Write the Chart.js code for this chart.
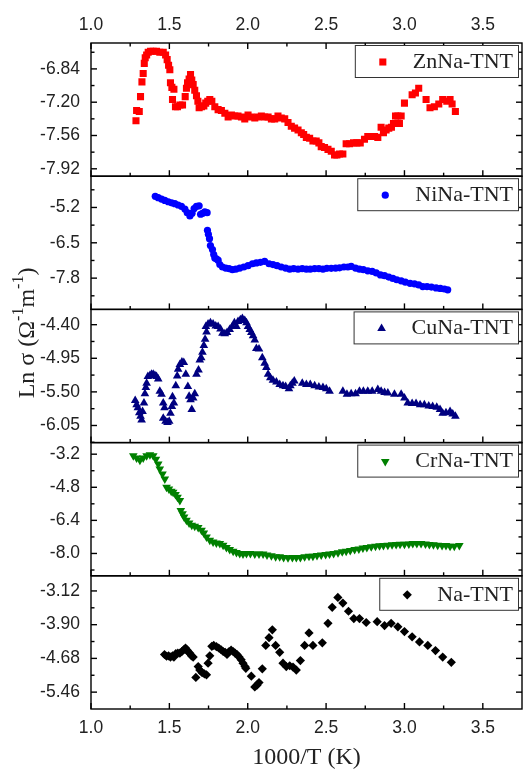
<!DOCTYPE html>
<html>
<head>
<meta charset="utf-8">
<title>Ln σ vs 1000/T</title>
<script src="https://cdn.jsdelivr.net/npm/chart.js@4.4.1/dist/chart.umd.min.js"></script>
<style>
  html, body { margin: 0; padding: 0; background: #fff; }
  #wrap { position: relative; width: 528px; height: 770px; }
</style>
</head>
<body>
<div id="wrap"><canvas id="cond"></canvas></div>
<script>
// shared 1000/T axis
const xTicks = [1.0, 1.5, 2.0, 2.5, 3.0, 3.5];
const xMin = 1.0, xMax = 3.75;

const sampleNames = ["ZnNa-TNT", "NiNa-TNT", "CuNa-TNT", "CrNa-TNT", "Na-TNT"];

// y tick labels for each panel, top to bottom
const znTicks = [-6.84, -7.20, -7.56, -7.92];
const niTicks = [-5.2, -6.5, -7.8];
const cuTicks = [-4.40, -4.95, -5.50, -6.05];
const crTicks = [-3.2, -4.8, -6.4, -8.0];
const naTicks = [-3.12, -3.90, -4.68, -5.46];

// ZnNa-TNT
const znX = [1.287,1.291,1.308,1.316,1.325,1.333,1.340,1.346,1.355,1.365,
  1.380,1.397,1.418,1.439,1.461,1.476,1.486,1.495,1.503,1.507,
  1.516,1.529,1.520,1.539,1.552,1.567,1.584,1.601,1.609,1.616,
  1.626,1.635,1.643,1.652,1.662,1.673,1.682,1.690,1.705,1.720,
  1.732,1.745,1.758,1.771,1.790,1.811,1.832,1.854,1.875,1.896,
  1.917,1.938,1.960,1.981,2.002,2.023,2.045,2.066,2.087,2.108,
  2.130,2.151,2.172,2.193,2.214,2.236,2.257,2.278,2.299,2.321,
  2.342,2.357,2.374,2.395,2.416,2.437,2.454,2.469,2.490,2.512,
  2.533,2.554,2.569,2.586,2.607,2.628,2.650,2.675,2.696,2.718,
  2.745,2.766,2.788,2.809,2.830,2.851,2.866,2.883,2.900,2.917,
  2.930,2.943,2.958,2.979,2.968,3.000,3.049,3.070,3.091,3.138,
  3.163,3.191,3.219,3.244,3.270,3.291,3.304,3.325];
const znY = [-7.40,-7.29,-7.30,-7.14,-6.98,-6.89,-6.78,-6.72,-6.69,-6.66,
  -6.65,-6.65,-6.65,-6.66,-6.66,-6.69,-6.74,-6.80,-6.85,-6.99,
  -7.04,-7.06,-7.17,-7.25,-7.25,-7.23,-7.23,-7.14,-7.05,-6.99,
  -6.95,-6.90,-6.96,-7.01,-7.07,-7.13,-7.19,-7.26,-7.25,-7.24,
  -7.21,-7.19,-7.17,-7.19,-7.25,-7.28,-7.29,-7.32,-7.36,-7.34,
  -7.35,-7.35,-7.36,-7.38,-7.34,-7.36,-7.37,-7.36,-7.35,-7.36,
  -7.36,-7.38,-7.38,-7.35,-7.37,-7.38,-7.42,-7.46,-7.48,-7.50,
  -7.53,-7.55,-7.58,-7.59,-7.62,-7.62,-7.64,-7.68,-7.69,-7.71,
  -7.73,-7.77,-7.77,-7.76,-7.76,-7.65,-7.65,-7.64,-7.64,-7.64,
  -7.60,-7.57,-7.57,-7.57,-7.58,-7.47,-7.53,-7.50,-7.48,-7.47,
  -7.43,-7.35,-7.35,-7.35,-7.43,-7.21,-7.12,-7.10,-7.05,-7.17,
  -7.26,-7.25,-7.22,-7.17,-7.19,-7.17,-7.22,-7.30];

// NiNa-TNT
const niX = [1.410,1.429,1.450,1.471,1.493,1.514,1.535,1.556,1.577,1.599,
  1.614,1.631,1.645,1.658,1.673,1.690,1.699,1.711,1.726,1.741,
  1.743,1.749,1.756,1.762,1.775,1.783,1.790,1.800,1.811,1.822,
  1.839,1.860,1.881,1.902,1.924,1.949,1.975,2.002,2.030,2.055,
  2.081,2.108,2.136,2.161,2.187,2.214,2.242,2.268,2.293,2.321,
  2.348,2.374,2.399,2.427,2.454,2.480,2.505,2.533,2.561,2.586,
  2.614,2.639,2.660,2.688,2.713,2.738,2.766,2.794,2.820,2.847,
  2.873,2.900,2.926,2.951,2.979,3.006,3.036,3.064,3.091,3.117,
  3.144,3.172,3.202,3.229,3.255,3.276];
const niY = [-4.79,-4.84,-4.89,-4.94,-4.99,-5.03,-5.06,-5.11,-5.16,-5.26,
  -5.39,-5.51,-5.41,-5.24,-5.16,-5.14,-5.45,-5.42,-5.36,-5.39,
  -6.04,-6.19,-6.35,-6.60,-6.75,-6.93,-7.06,-7.09,-7.14,-7.30,
  -7.39,-7.43,-7.45,-7.49,-7.47,-7.43,-7.39,-7.34,-7.27,-7.24,
  -7.22,-7.18,-7.27,-7.30,-7.34,-7.39,-7.43,-7.47,-7.45,-7.47,
  -7.45,-7.47,-7.47,-7.45,-7.45,-7.47,-7.44,-7.44,-7.43,-7.42,
  -7.39,-7.39,-7.37,-7.43,-7.47,-7.49,-7.53,-7.55,-7.61,-7.68,
  -7.71,-7.76,-7.81,-7.86,-7.90,-7.95,-7.99,-8.01,-8.05,-8.11,
  -8.11,-8.13,-8.16,-8.18,-8.20,-8.23];

// CuNa-TNT
const cuX = [1.282,1.291,1.299,1.308,1.316,1.323,1.329,1.338,1.344,1.350,
  1.355,1.363,1.376,1.386,1.397,1.408,1.418,1.429,1.439,1.450,
  1.461,1.469,1.461,1.476,1.488,1.499,1.507,1.516,1.520,1.529,
  1.541,1.550,1.556,1.567,1.580,1.592,1.605,1.618,1.626,1.635,
  1.643,1.652,1.662,1.673,1.686,1.694,1.703,1.711,1.720,1.728,
  1.737,1.733,1.747,1.762,1.779,1.796,1.811,1.826,1.839,1.854,
  1.868,1.885,1.902,1.915,1.928,1.938,1.953,1.966,1.981,1.992,
  2.002,2.013,2.023,2.034,2.045,2.055,2.072,2.093,2.108,2.119,
  2.130,2.144,2.161,2.183,2.204,2.225,2.242,2.263,2.272,2.285,
  2.297,2.348,2.374,2.399,2.427,2.454,2.480,2.501,2.522,2.607,
  2.633,2.660,2.688,2.713,2.738,2.766,2.794,2.830,2.851,2.873,
  2.894,2.936,2.979,3.000,3.021,3.049,3.074,3.100,3.127,3.155,
  3.180,3.206,3.227,3.244,3.265,3.291,3.308,3.325];
const cuY = [-5.64,-5.71,-5.76,-5.84,-5.90,-5.96,-5.82,-5.68,-5.53,-5.43,
  -5.36,-5.25,-5.23,-5.21,-5.21,-5.23,-5.25,-5.29,-5.49,-5.54,
  -5.68,-5.76,-5.93,-5.98,-6.00,-5.98,-5.85,-5.74,-5.58,-5.68,
  -5.40,-5.24,-5.13,-5.05,-5.01,-5.02,-5.21,-5.41,-5.57,-5.63,
  -5.79,-5.60,-5.53,-5.21,-5.14,-4.98,-4.94,-4.85,-4.74,-4.64,
  -4.52,-4.43,-4.39,-4.37,-4.39,-4.42,-4.43,-4.47,-4.54,-4.55,
  -4.53,-4.48,-4.43,-4.37,-4.43,-4.35,-4.32,-4.30,-4.33,-4.37,
  -4.43,-4.48,-4.53,-4.58,-4.65,-4.79,-4.80,-4.94,-5.03,-5.10,
  -5.21,-5.27,-5.31,-5.34,-5.38,-5.40,-5.41,-5.45,-5.40,-5.36,
  -5.32,-5.36,-5.38,-5.38,-5.40,-5.42,-5.43,-5.45,-5.49,-5.49,
  -5.54,-5.53,-5.53,-5.49,-5.49,-5.49,-5.49,-5.46,-5.49,-5.51,
  -5.52,-5.54,-5.54,-5.60,-5.68,-5.69,-5.69,-5.71,-5.71,-5.73,
  -5.74,-5.75,-5.79,-5.85,-5.84,-5.82,-5.86,-5.90];

// CrNa-TNT
const crX = [1.270,1.291,1.312,1.333,1.355,1.376,1.397,1.414,1.429,1.439,
  1.456,1.471,1.482,1.497,1.512,1.524,1.539,1.552,1.567,1.573,
  1.584,1.594,1.609,1.626,1.643,1.662,1.684,1.705,1.720,1.737,
  1.758,1.779,1.800,1.822,1.843,1.864,1.885,1.907,1.928,1.949,
  1.970,1.992,2.017,2.045,2.072,2.098,2.123,2.151,2.178,2.204,
  2.229,2.257,2.285,2.310,2.336,2.363,2.391,2.416,2.442,2.469,
  2.497,2.522,2.548,2.576,2.603,2.628,2.654,2.682,2.709,2.735,
  2.760,2.788,2.815,2.841,2.866,2.894,2.921,2.947,2.972,3.000,
  3.028,3.053,3.079,3.106,3.134,3.159,3.185,3.212,3.240,3.265,
  3.291,3.318,3.350];
const crY = [-3.28,-3.39,-3.49,-3.39,-3.28,-3.23,-3.28,-3.44,-3.68,-3.92,
  -4.16,-4.40,-4.80,-4.88,-4.99,-5.04,-5.15,-5.28,-5.44,-5.92,
  -6.08,-6.24,-6.40,-6.53,-6.64,-6.69,-6.75,-6.88,-7.01,-7.20,
  -7.36,-7.44,-7.49,-7.52,-7.60,-7.71,-7.81,-7.89,-7.95,-8.00,
  -8.03,-8.00,-8.00,-8.03,-8.03,-8.03,-8.08,-8.11,-8.16,-8.16,
  -8.19,-8.21,-8.19,-8.19,-8.19,-8.16,-8.13,-8.13,-8.10,-8.08,
  -8.05,-8.03,-8.00,-7.97,-7.92,-7.89,-7.86,-7.81,-7.78,-7.74,
  -7.71,-7.68,-7.65,-7.63,-7.62,-7.60,-7.58,-7.57,-7.55,-7.55,
  -7.54,-7.52,-7.52,-7.52,-7.54,-7.57,-7.58,-7.60,-7.62,-7.62,
  -7.65,-7.65,-7.62];

// Na-TNT
const naX = [1.469,1.482,1.495,1.507,1.520,1.529,1.541,1.554,1.567,1.580,
  1.592,1.603,1.614,1.622,1.631,1.641,1.652,1.669,1.684,1.694,
  1.709,1.724,1.737,1.747,1.758,1.771,1.783,1.800,1.815,1.830,
  1.843,1.856,1.868,1.881,1.894,1.907,1.919,1.932,1.945,1.958,
  1.970,1.983,1.988,2.023,2.045,2.059,2.072,2.093,2.115,2.136,
  2.157,2.178,2.204,2.225,2.246,2.268,2.289,2.310,2.336,2.363,
  2.391,2.416,2.476,2.512,2.539,2.575,2.607,2.643,2.677,2.713,
  2.756,2.826,2.873,2.915,2.958,3.000,3.049,3.096,3.149,3.198,
  3.244,3.299];
const naY = [-4.59,-4.63,-4.62,-4.65,-4.62,-4.65,-4.57,-4.56,-4.56,-4.52,
  -4.48,-4.44,-4.49,-4.54,-4.56,-4.62,-4.65,-5.12,-4.87,-4.95,
  -5.01,-5.04,-5.06,-4.79,-4.62,-4.40,-4.38,-4.41,-4.44,-4.48,
  -4.52,-4.54,-4.59,-4.52,-4.49,-4.52,-4.56,-4.59,-4.65,-4.71,
  -4.79,-4.87,-4.91,-5.09,-5.34,-5.30,-5.24,-4.92,-4.38,-4.20,
  -4.02,-4.38,-4.54,-4.79,-4.87,-4.85,-4.88,-4.95,-4.73,-4.38,
  -4.09,-4.38,-4.32,-3.87,-3.50,-3.27,-3.40,-3.59,-3.76,-3.76,
  -3.85,-3.83,-3.92,-3.87,-3.95,-4.06,-4.18,-4.30,-4.38,-4.50,
  -4.65,-4.77];

const tickFont = { family: "'Liberation Sans', Arial, sans-serif", size: 17.5 };
const serif = "'Liberation Serif', 'Times New Roman', serif";
const ink = '#222';

const toPoints = (xs, ys) => xs.map((x, i) => ({ x, y: ys[i] }));

function panelAxis(ticks, min, max, digits) {
  return {
    type: 'linear',
    position: 'left',
    stack: 'panels',
    stackWeight: 1,
    min, max,
    grid: { display: false, drawTicks: false },
    border: { display: false },
    afterBuildTicks: s => { s.ticks = ticks.map(v => ({ value: v })); },
    afterFit: s => { s.width = 91; },
    ticks: { padding: 11, color: ink, font: tickFont, autoSkip: false,
      callback: v => Number(v).toFixed(digits) }
  };
}

function xAxis(position, height, padding) {
  return {
    type: 'linear',
    position,
    min: xMin, max: xMax,
    grid: { display: false, drawTicks: false },
    border: { display: false },
    afterBuildTicks: s => { s.ticks = xTicks.map(v => ({ value: v })); },
    afterFit: s => { s.height = height; },
    ticks: { padding, color: ink, font: tickFont, autoSkip: false, maxRotation: 0,
      callback: v => Number(v).toFixed(1) }
  };
}

const panelIds = ['yZn', 'yNi', 'yCu', 'yCr', 'yNa'];
const markers = [
  { style: 'rect', rotation: 0, radius: 5, color: '#ff0000' },
  { style: 'circle', rotation: 0, radius: 3.6, color: '#0000ff' },
  { style: 'triangle', rotation: 0, radius: 5, color: '#000080' },
  { style: 'triangle', rotation: 180, radius: 5, color: '#008000' },
  { style: 'rectRot', rotation: 0, radius: 4.6, color: '#000000' }
];
const seriesX = [znX, niX, cuX, crX, naX];
const seriesY = [znY, niY, cuY, crY, naY];

// inward tick marks and a frame round every panel
const framePlugin = {
  id: 'panelFrames',
  afterDatasetsDraw(chart) {
    const { ctx, chartArea: { left, right } } = chart;
    const xs = chart.scales.x;
    ctx.save();
    ctx.strokeStyle = '#000';
    ctx.lineWidth = 1.4;
    const seg = (x1, y1, x2, y2) => { ctx.beginPath(); ctx.moveTo(x1, y1); ctx.lineTo(x2, y2); ctx.stroke(); };
    const xMinor = xTicks.map(v => v + 0.25).filter(v => v < xMax);
    panelIds.forEach((id, i) => {
      const s = chart.scales[id];
      ctx.strokeRect(left, s.top, right - left, s.bottom - s.top);
      const vals = s.ticks.map(t => t.value);
      const step = vals[1] - vals[0];
      vals.forEach(v => {
        const y = s.getPixelForValue(v);
        seg(left, y, left + 6, y);
        seg(right, y, right - 6, y);
      });
      for (let k = -6; k < vals.length + 6; k++) {
        const v = vals[0] + (k + 0.5) * step;
        if (v <= s.min || v >= s.max) continue;
        const y = s.getPixelForValue(v);
        seg(left, y, left + 3.5, y);
        seg(right, y, right - 3.5, y);
      }
      xTicks.forEach(v => { const x = xs.getPixelForValue(v); seg(x, s.bottom, x, s.bottom - 6); });
      xMinor.forEach(v => { const x = xs.getPixelForValue(v); seg(x, s.bottom, x, s.bottom - 3.5); });
      if (i === 0) {
        xTicks.forEach(v => { const x = xs.getPixelForValue(v); seg(x, s.top, x, s.top + 6); });
        xMinor.forEach(v => { const x = xs.getPixelForValue(v); seg(x, s.top, x, s.top + 3.5); });
      }
    });
    ctx.restore();
  }
};

// boxed legend in the upper right corner of each panel
const panelLegend = {
  id: 'panelLegend',
  afterDraw(chart) {
    const { ctx, chartArea: { right } } = chart;
    ctx.save();
    ctx.font = '22px ' + serif;
    chart.data.datasets.forEach((ds, i) => {
      const s = chart.scales[panelIds[i]];
      const w = ctx.measureText(ds.label).width + 63;
      const h = 32, bx = right - 4 - w, by = s.top + 2;
      ctx.fillStyle = '#fff';
      ctx.fillRect(bx, by, w, h);
      ctx.strokeStyle = '#333';
      ctx.lineWidth = 1;
      ctx.strokeRect(bx + 0.5, by + 0.5, w, h);
      const m = markers[i];
      ctx.fillStyle = m.color;
      Chart.helpers.drawPoint(ctx, { pointStyle: m.style, rotation: m.rotation, radius: m.radius, borderWidth: 0 },
        bx + 28, by + h / 2 + 1);
      ctx.fillStyle = ink;
      ctx.textBaseline = 'middle';
      ctx.textAlign = 'left';
      ctx.fillText(ds.label, bx + 58, by + h / 2 + 1);
    });
    ctx.restore();
  }
};

// vertical "Ln σ (Ω-1 m-1)" title with raised exponents
const yTitle = {
  id: 'yTitle',
  afterDraw(chart) {
    const { ctx } = chart;
    const parts = [['Ln σ (Ω', false], ['-1', true], ['m', false], ['-1', true], [')', false]];
    ctx.save();
    ctx.translate(34, 333);
    ctx.rotate(-Math.PI / 2);
    ctx.fillStyle = ink;
    ctx.textBaseline = 'alphabetic';
    const fontOf = sup => (sup ? '16px ' : '24px ') + serif;
    let total = 0;
    parts.forEach(([t, sup]) => { ctx.font = fontOf(sup); total += ctx.measureText(t).width; });
    let x = -total / 2;
    parts.forEach(([t, sup]) => {
      ctx.font = fontOf(sup);
      ctx.fillText(t, x, sup ? -11 : 0);
      x += ctx.measureText(t).width;
    });
    ctx.restore();
  }
};

// stacked left axes are laid out from the last one defined, so list them bottom panel first
const scales = {
  x: Object.assign(xAxis('bottom', 61, 8.5), {
    title: { display: true, text: '1000/T (K)', color: ink,
      font: { family: serif, size: 24, lineHeight: 1 }, padding: { top: 0, bottom: 0 } }
  }),
  x2: xAxis('top', 43, 7.5),
  yNa: panelAxis(naTicks, -5.85, -2.77, 2),
  yCr: panelAxis(crTicks, -9.08, -2.64, 1),
  yCu: panelAxis(cuTicks, -6.33, -4.15, 2),
  yNi: panelAxis(niTicks, -8.95, -4.05, 1),
  yZn: panelAxis(znTicks, -8.00, -6.56, 2)
};

new Chart(document.getElementById('cond'), {
  type: 'scatter',
  data: {
    datasets: sampleNames.map((name, i) => ({
      label: name,
      data: toPoints(seriesX[i], seriesY[i]),
      yAxisID: panelIds[i],
      xAxisID: 'x',
      pointStyle: markers[i].style,
      rotation: markers[i].rotation,
      pointRadius: markers[i].radius,
      pointBackgroundColor: markers[i].color,
      pointBorderWidth: 0,
      showLine: false
    }))
  },
  options: {
    responsive: true,
    maintainAspectRatio: false,
    animation: false,
    layout: { padding: { left: 0, right: 6, top: 0, bottom: 0 } },
    plugins: { legend: { display: false }, tooltip: { enabled: false } },
    scales
  },
  plugins: [framePlugin, panelLegend, yTitle]
});
</script>
</body>
</html>
